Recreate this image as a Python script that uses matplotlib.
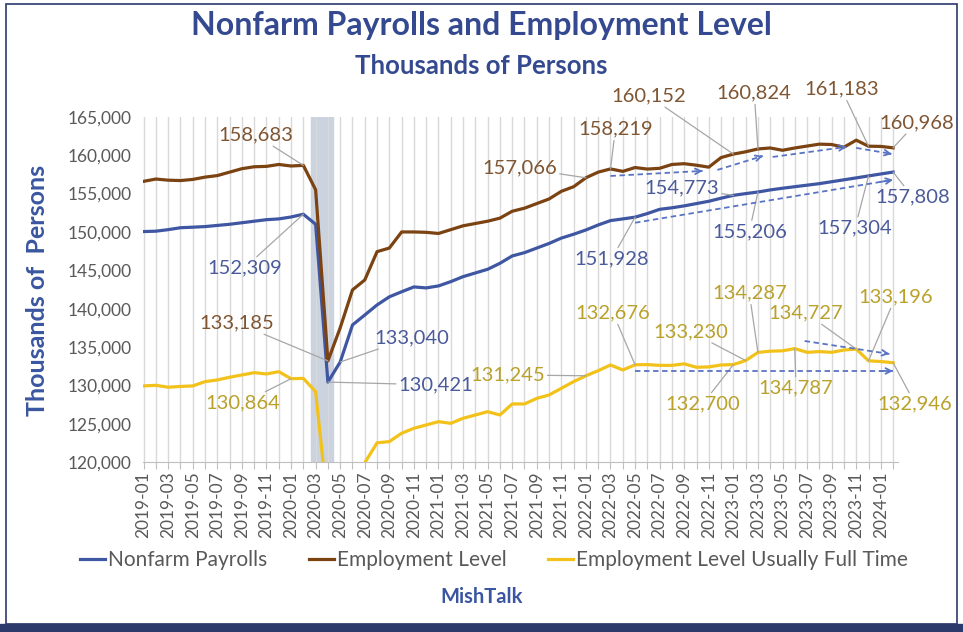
import matplotlib
matplotlib.use("Agg")
import matplotlib.pyplot as plt
import numpy as np
import pandas as pd
from matplotlib.patches import Rectangle

plt.rcParams["font.family"] = ["Lato", "DejaVu Sans"]

MONTHS = pd.date_range("2019-01-01", "2024-02-01", freq="MS").strftime("%Y-%m").tolist()

NONFARM = [
    150050, 150100, 150300, 150550, 150620, 150700, 150850, 151000, 151200, 151400, 151600, 151700,
    151950, 152309, 151000, 130421, 133040, 137870, 139170, 140480, 141540, 142200, 142830, 142700,
    142960, 143520, 144170, 144650, 145130, 145910, 146870, 147300, 147900, 148500, 149200, 149700,
    150260, 150910, 151480, 151700, 151928, 152400, 152950, 153150, 153400, 153700, 154000, 154400,
    154773, 155000, 155206, 155480, 155700, 155900, 156100, 156300, 156550, 156800, 157050, 157304,
    157560, 157808,
]
EMPLOYMENT = [
    156600, 156900, 156750, 156700, 156850, 157150, 157350, 157800, 158250, 158500, 158550, 158800,
    158600, 158683, 155500, 133185, 137500, 142440, 143740, 147430, 147900, 150000, 150000, 149950,
    149800, 150300, 150800, 151100, 151400, 151800, 152700, 153100, 153700, 154300, 155300, 155900,
    157066, 157800, 158219, 157900, 158400, 158200, 158300, 158800, 158900, 158700, 158450, 159700,
    160152, 160450, 160824, 160950, 160650, 160950, 161200, 161450, 161400, 161050, 161969, 161183,
    161152, 160968,
]
FULL_TIME = [
    129920, 130000, 129750, 129850, 129920, 130480, 130700, 131050, 131350, 131650, 131480, 131780,
    130864, 130900, 129170, 114000, 116000, 117500, 119900, 122500, 122660, 123750, 124400, 124830,
    125260, 125040, 125700, 126130, 126560, 126130, 127570, 127570, 128300, 128740, 129610, 130480,
    131245, 131910, 132650, 132000, 132676, 132700, 132600, 132600, 132800, 132350, 132400, 132650,
    132700, 133230, 134287, 134450, 134500, 134787, 134300, 134400, 134300, 134600, 134727, 133196,
    133100, 132946,
]

# callouts: (month index of point, text x in months, text y)
NONFARM_NOTES = [(13, 8.2, 145300), (16, 21.8, 136200), (15, 23.8, 130050), (40, 38.1, 146500),
                 (48, 43.8, 155750), (50, 49.3, 150050), (59, 57.9, 150500), (61, 62.6, 154550)]
EMPLOYMENT_NOTES = [(13, 9.1, 162650), (15, 7.6, 138130), (36, 30.6, 158350), (38, 38.4, 163400),
                    (48, 41.1, 167750), (50, 49.7, 168100), (59, 56.8, 168600), (61, 62.9, 164250)]
FULL_TIME_NOTES = [(12, 8.1, 127700), (36, 29.6, 131350), (40, 38.2, 139430), (49, 44.5, 137000),
                   (48, 45.5, 127570), (50, 49.3, 142000), (58, 53.9, 139430), (53, 53.1, 129650),
                   (59, 61.2, 141520), (61, 62.8, 127570)]

# dashed trend arrows: (x0, y0, x1, y1)
TREND_ARROWS = [
    (38.0, 157300, 45.5, 157960), (46.7, 158090, 50.4, 159910), (51.2, 159780, 57.2, 161090),
    (58.0, 160960, 60.9, 160170), (40.0, 151200, 61.0, 156800), (40.0, 131870, 61.0, 131870),
    (53.8, 135780, 60.7, 134090),
]

RECESSION = (13.6, 15.4)

BLUE = "#3F57A3"
BROWN = "#7B4212"
GOLD = "#F2C21B"
BLUE_TXT = "#4A5A9A"
BROWN_TXT = "#7F5532"
GOLD_TXT = "#B9A12A"
NAVY = "#34498F"
GRAY = "#595959"


def add_notes(ax, values, notes, color):
    for idx, tx, ty in notes:
        ax.annotate(f"{values[idx]:,}", xy=(idx, values[idx]), xytext=(tx, ty),
                    ha="center", va="center", fontsize=14.5, color=color,
                    annotation_clip=False,
                    arrowprops=dict(arrowstyle="-", color="#A6A6A6", lw=0.9,
                                    shrinkA=0, shrinkB=0))


def main():
    fig = plt.figure(figsize=(9.63, 6.32), dpi=100)
    ax = fig.add_axes([0.1485, 0.269, 0.784, 0.546])
    x = np.arange(len(MONTHS))

    ax.axvspan(*RECESSION, color="#CBD2E0", zorder=0)
    for xi in x:
        ax.axvline(xi, color="#D9D9D9", lw=1, zorder=0.5)

    ax.plot(x, NONFARM, color=BLUE, lw=2.3, label="Nonfarm Payrolls", zorder=3)
    ax.plot(x, EMPLOYMENT, color=BROWN, lw=2.3, label="Employment Level", zorder=3)
    ax.plot(x, FULL_TIME, color=GOLD, lw=2.3, label="Employment Level Usually Full Time", zorder=3)

    for x0, y0, x1, y1 in TREND_ARROWS:
        ax.plot([x0, x1], [y0, y1], color="#5A74C4", lw=1.3, ls=(0, (3, 2)), zorder=4)
        ax.annotate("", xy=(x1, y1), xytext=(x1 - 0.05 * (x1 - x0), y1 - 0.05 * (y1 - y0)),
                    arrowprops=dict(arrowstyle="->", color="#5A74C4", lw=1.3,
                                    mutation_scale=10, shrinkA=0, shrinkB=0))

    add_notes(ax, NONFARM, NONFARM_NOTES, BLUE_TXT)
    add_notes(ax, EMPLOYMENT, EMPLOYMENT_NOTES, BROWN_TXT)
    add_notes(ax, FULL_TIME, FULL_TIME_NOTES, GOLD_TXT)

    ax.set_xlim(-0.05, 61.4)
    ax.set_ylim(120000, 165000)
    ax.set_yticks(np.arange(120000, 165001, 5000))
    ax.set_yticklabels([f"{v:,}" for v in range(120000, 165001, 5000)])
    ax.set_xticks(x)
    ax.set_xticklabels([m if i % 2 == 0 else "" for i, m in enumerate(MONTHS)], rotation=90)
    ax.tick_params(axis="y", length=0, labelsize=12.5, labelcolor=GRAY, pad=8)
    ax.tick_params(axis="x", length=5, color="#BFBFBF", labelsize=12.5, labelcolor=GRAY, pad=2)
    for side in ["top", "right", "left"]:
        ax.spines[side].set_visible(False)
    ax.spines["bottom"].set_color("#BFBFBF")

    fig.text(0.5, 0.959, "Nonfarm Payrolls and Employment Level", ha="center", va="center",
             fontsize=23, fontweight="bold", color=NAVY)
    fig.text(0.5, 0.896, "Thousands of Persons", ha="center", va="center",
             fontsize=18.5, fontweight="bold", color=NAVY)
    fig.text(0.039, 0.541, "Thousands of  Persons", rotation=90, ha="center", va="center",
             fontsize=18, fontweight="bold", color="#3A56A0")
    fig.legend(loc="center", bbox_to_anchor=(0.513, 0.114), ncol=3, frameon=False,
               fontsize=15, handlelength=1.2, handletextpad=0.15, columnspacing=2.0,
               labelcolor=GRAY)
    fig.text(0.5, 0.055, "MishTalk", ha="center", va="center", fontsize=14.5,
             fontweight="bold", color="#3A56A0")

    fig.patches.append(Rectangle((0.006, 0.012), 0.988, 0.982, transform=fig.transFigure,
                                 fill=False, edgecolor="#2B3A6B", lw=1.2))
    fig.patches.append(Rectangle((0.0, 0.0), 1.0, 0.012, transform=fig.transFigure,
                                 color="#2B3A6B"))

    fig.savefig("out.png", dpi=100)


if __name__ == "__main__":
    main()
